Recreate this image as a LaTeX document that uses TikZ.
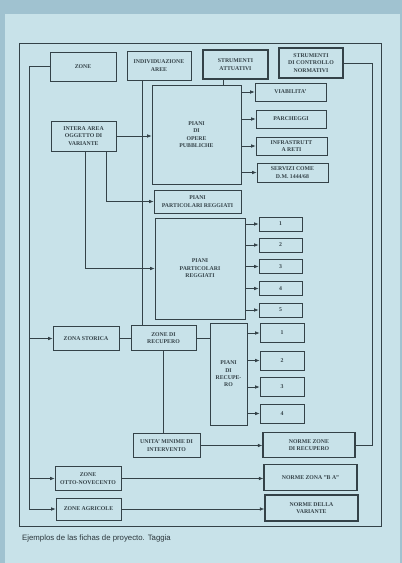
\documentclass[tikz,border=0pt]{standalone}
\usepackage{fontspec}
\setmainfont{Liberation Serif}
\newfontfamily\capfont{Liberation Sans}
\usetikzlibrary{arrows.meta}
\definecolor{bg}{RGB}{200,226,233}
\definecolor{edgec}{RGB}{160,194,208}
\definecolor{ink}{RGB}{52,66,72}
\begin{document}
\begin{tikzpicture}[x=1pt,y=-1pt,
  box/.style={draw=ink,line width=0.7pt,align=center,inner sep=0pt,
    font=\fontsize{5.8}{7.4}\selectfont\bfseries,text=ink},
  tbox/.style={box,line width=1.3pt},
  bx/.style 2 args={minimum width=#1pt,minimum height=#2pt},
  arr/.style={draw=ink,line width=0.6pt,-{Latex[length=4.5pt,width=3.6pt]}},
  ln/.style={draw=ink,line width=0.6pt}]
% background
\fill[edgec] (0,0) rectangle (402,563);
\fill[bg] (5,14) rectangle (400,563);
\useasboundingbox (0,0) rectangle (402,563);
% frame
\draw[ink,line width=0.7pt] (19,43) rectangle (381,526);
% top row
\node[box,bx={66}{29}] (zone) at (83,66.5) {ZONE};
\node[box,bx={64}{29}] (indiv) at (159,65.5) {INDIVIDUAZIONE\\AREE};
\node[tbox,bx={65}{29}] (stratt) at (235.5,64.5) {STRUMENTI\\ATTUATIVI};
\node[tbox,bx={64}{30}] (strctrl) at (311,63) {STRUMENTI\\DI CONTROLLO\\NORMATIVI};
% opere pubbliche
\node[box,bx={89}{99}] (pop) at (196.5,134.5) {PIANI\\DI\\OPERE\\PUBBLICHE};
\node[box,bx={71}{18}] (viab) at (290.5,92) {VIABILITA'};
\node[box,bx={70}{18}] (parch) at (291,119) {PARCHEGGI};
\node[box,bx={71}{18}] (infra) at (291.5,146) {INFRASTRUTT\\A RETI};
\node[box,bx={71}{19}] (serv) at (292.5,172.5) {SERVIZI COME\\D.M. 1444/68};
\node[box,bx={65}{30}] (intera) at (83.5,136) {INTERA AREA\\OGGETTO DI\\VARIANTE};
% piani particolari
\node[box,bx={87}{23}] (ppra) at (197.5,201.5) {PIANI\\PARTICOLARI REGGIATI};
\node[box,bx={90}{101}] (pprb) at (200,268.5) {PIANI\\PARTICOLARI\\REGGIATI};
\node[box,bx={43}{14}] (na) at (280.5,224) {1};
\node[box,bx={43}{14}] (nb) at (280.5,245) {2};
\node[box,bx={43}{14}] (nc) at (280.5,266.5) {3};
\node[box,bx={43}{14}] (nd) at (280.5,288.5) {4};
\node[box,bx={43}{14}] (ne) at (280.5,310) {5};
% recupero
\node[box,bx={66}{24}] (zst) at (86,338.5) {ZONA STORICA};
\node[box,bx={65}{25}] (zrec) at (163.5,338) {ZONE DI\\RECUPERO};
\node[box,bx={37}{102}] (prec) at (228.5,374) {PIANI\\DI\\RECUPE-\\RO};
\node[box,bx={44}{19}] (ma) at (282,333) {1};
\node[box,bx={44}{19}] (mb) at (282,360.5) {2};
\node[box,bx={44}{19}] (mc) at (282,387) {3};
\node[box,bx={44}{19}] (md) at (282,413.5) {4};
\node[box,bx={67}{24}] (umi) at (166.5,445.5) {UNITA' MINIME DI\\INTERVENTO};
\node[tbox,bx={92}{25}] (nzr) at (309,445) {NORME ZONE\\DI RECUPERO};
% bottom rows
\node[box,bx={66}{24}] (zon) at (88,478.5) {ZONE\\OTTO-NOVECENTO};
\node[tbox,bx={93}{26}] (nzb) at (310.5,477.5) {NORME ZONA "B A"};
\node[box,bx={65}{22}] (zag) at (88.5,509) {ZONE AGRICOLE};
\node[tbox,bx={93}{26}] (ndv) at (311.5,508) {NORME DELLA\\VARIANTE};
% helper coordinates
\coordinate (lx) at (29,0);
\coordinate (rx) at (372,0);
\coordinate (ix) at (142,0);
\coordinate (sx) at (223,0);
\coordinate (xa) at (85,0);
\coordinate (xb) at (106,0);
% left bus
\draw[ln] (zone.west) -- (zone.west -| lx) -- (zag.west -| lx);
\draw[arr] (zag.west -| lx) -- (zag.west);
\draw[arr] (zon.west -| lx) -- (zon.west);
\draw[arr] (zst.west -| lx) -- (zst.west);
% right bus
\draw[ln] (strctrl.east) -- (strctrl.east -| rx) -- (nzr.east -| rx) -- (nzr.east);
% individuazione line
\draw[ln] (indiv.south -| ix) -- (zrec.north -| ix);
% strumenti attuativi to opere
\draw[ln] (stratt.south -| sx) -- (pop.north -| sx);
% intera area
\draw[arr] (intera.east) -- (intera.east -| pop.west);
\draw[arr] (intera.south -| xb) |- (ppra.west);
\draw[arr] (intera.south -| xa) |- (pprb.west);
% opere outputs
\foreach \t in {viab,parch,infra,serv}
  \draw[arr] (\t.west -| pop.east) -- (\t.west);
\foreach \t in {na,nb,nc,nd,ne}
  \draw[arr] (\t.west -| pprb.east) -- (\t.west);
\foreach \t in {ma,mb,mc,md}
  \draw[arr] (\t.west -| prec.east) -- (\t.west);
% recupero chain
\draw[ln] (zst.east) -- (zst.east -| zrec.west);
\draw[ln] (zrec.east) -- (zrec.east -| prec.west);
\draw[ln] (zrec.south) -- (zrec.south |- umi.north);
\draw[arr] (umi.east) -- (umi.east -| nzr.west);
\draw[arr] (zon.east) -- (zon.east -| nzb.west);
\draw[arr] (zag.east) -- (zag.east -| ndv.west);
% caption
\node[anchor=west,inner sep=0pt,text=ink!80!black,font=\capfont\fontsize{7.8}{9}\selectfont] (cap) at (22,538) {Ejemplos de las fichas de proyecto. Taggia};
\end{tikzpicture}
\end{document}
